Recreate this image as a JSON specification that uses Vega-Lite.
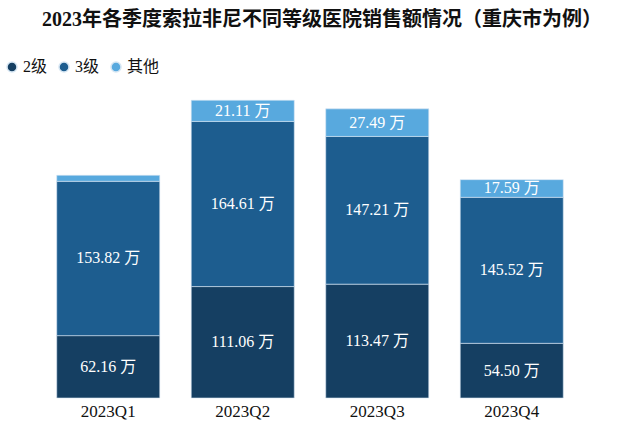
{
  "$schema": "https://vega.github.io/schema/vega-lite/v6.json",
  "autosize": "none",
  "width": 538,
  "height": 301,
  "padding": {"left": 41, "top": 97, "right": 56, "bottom": 31},
  "background": "white",
  "title": {
    "text": "2023年各季度索拉非尼不同等级医院销售额情况（重庆市为例）",
    "font": "Liberation Serif, Noto Sans CJK SC",
    "fontSize": 20,
    "fontWeight": "bold",
    "color": "#111111",
    "anchor": "middle",
    "offset": 29,
    "dx": 12
  },
  "data": {
    "values": [
      {"quarter": "2023Q1", "level": "2级", "order": 1, "value": 62.16, "label": "62.16 万"},
      {"quarter": "2023Q1", "level": "3级", "order": 2, "value": 153.82, "label": "153.82 万"},
      {"quarter": "2023Q1", "level": "其他", "order": 3, "value": 6, "label": ""},
      {"quarter": "2023Q2", "level": "2级", "order": 1, "value": 111.06, "label": "111.06 万"},
      {"quarter": "2023Q2", "level": "3级", "order": 2, "value": 164.61, "label": "164.61 万"},
      {"quarter": "2023Q2", "level": "其他", "order": 3, "value": 21.11, "label": "21.11 万"},
      {"quarter": "2023Q3", "level": "2级", "order": 1, "value": 113.47, "label": "113.47 万"},
      {"quarter": "2023Q3", "level": "3级", "order": 2, "value": 147.21, "label": "147.21 万"},
      {"quarter": "2023Q3", "level": "其他", "order": 3, "value": 27.49, "label": "27.49 万"},
      {"quarter": "2023Q4", "level": "2级", "order": 1, "value": 54.50, "label": "54.50 万"},
      {"quarter": "2023Q4", "level": "3级", "order": 2, "value": 145.52, "label": "145.52 万"},
      {"quarter": "2023Q4", "level": "其他", "order": 3, "value": 17.59, "label": "17.59 万"}
    ]
  },
  "transform": [
    {"stack": "value", "groupby": ["quarter"], "sort": [{"field": "order"}], "as": ["v0", "v1"]},
    {"calculate": "(datum.v0 + datum.v1) / 2", "as": "mid"}
  ],
  "encoding": {
    "x": {
      "field": "quarter",
      "type": "nominal",
      "scale": {"paddingInner": 0.234, "paddingOuter": 0.117},
      "axis": {
        "title": null,
        "domain": false,
        "ticks": false,
        "labelAngle": 0,
        "labelFont": "Liberation Serif",
        "labelFontSize": 17,
        "labelColor": "#111111",
        "labelPadding": 5
      }
    }
  },
  "layer": [
    {
      "mark": {"type": "bar", "stroke": "#d6e6f3", "strokeWidth": 0.6},
      "encoding": {
        "y": {"field": "v0", "type": "quantitative", "scale": {"domain": [0, 300]}, "axis": null},
        "y2": {"field": "v1"},
        "color": {
          "field": "level",
          "type": "nominal",
          "scale": {"domain": ["2级", "3级", "其他"], "range": ["#153f62", "#1d5d8f", "#58a9de"]},
          "legend": {
            "title": null,
            "orient": "none",
            "direction": "horizontal",
            "legendX": -37,
            "legendY": -38,
            "symbolType": "circle",
            "symbolSize": 100,
            "symbolOpacity": 1,
            "labelFont": "Liberation Serif, Noto Sans CJK SC",
            "labelFontSize": 16,
            "labelColor": "#111111",
            "columnPadding": 8,
            "labelOffset": 3
          }
        }
      }
    },
    {
      "mark": {"type": "text", "color": "white", "font": "Liberation Serif, Noto Sans CJK SC", "fontSize": 16, "baseline": "middle"},
      "encoding": {
        "y": {"field": "mid", "type": "quantitative"},
        "text": {"field": "label"}
      }
    }
  ],
  "config": {"view": {"stroke": null}}
}
